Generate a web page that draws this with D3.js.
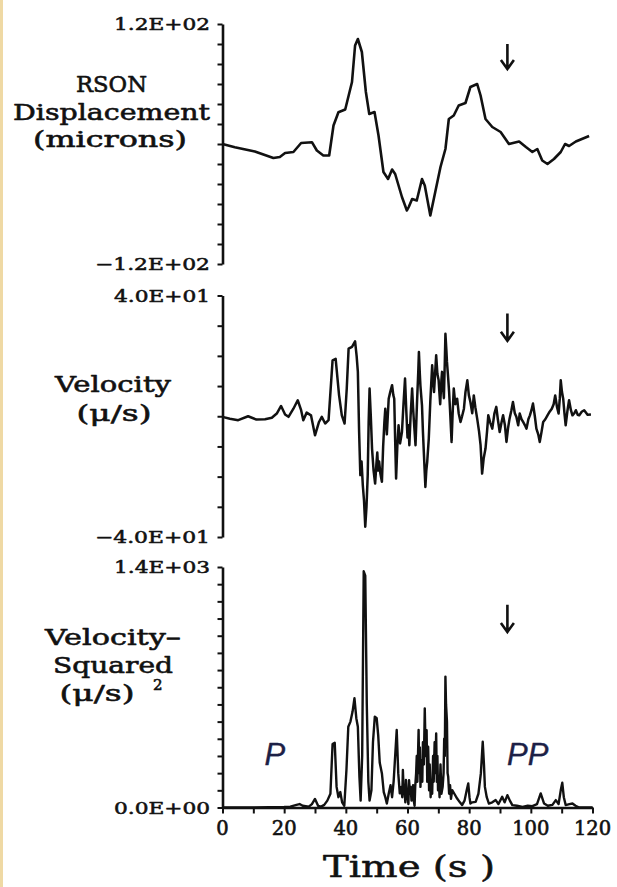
<!DOCTYPE html>
<html>
<head>
<meta charset="utf-8">
<script src="https://cdn.jsdelivr.net/npm/d3@7"></script>
<style>
  html, body { margin: 0; padding: 0; background: #fff; }
  svg { display: block; }
</style>
</head>
<body>
<svg id="chart" width="617" height="887"></svg>
<script>
// ---- Data: RSON record, time in seconds ----
const dispTime  = [0, 4, 10.5, 16.5, 18.6, 20.3, 23, 25.5, 29, 30.6, 32.7, 34.6, 36, 37.6, 39.8, 42, 43, 43.9, 45.2, 46.5, 47.6, 49.3, 50.6, 52.2, 53.7, 55, 56, 58.2, 59.8, 60.4, 61.5, 63, 64.7, 65.6, 67.4, 69, 70.7, 72.3, 73.4, 75, 76.6, 78.8, 80.4, 82.6, 83.7, 85.3, 87.5, 90.2, 92.9, 96.2, 98.4, 100.5, 102.1, 103.7, 105.4, 107.5, 109.7, 111.1, 112.4, 114.6, 118.9];
const dispValue = [0, -3.2, -7.5, -14, -13, -9, -8, 1, 1.8, -6.5, -11.5, -11.5, 18.5, 31.8, 34.5, 62, 98.5, 105, 92, 52, 30, 32, 8.5, -28, -35, -25.5, -30, -53, -66.5, -63, -55, -56.5, -35, -41.5, -71.5, -48, -23, -5, 25, 28.5, 38.5, 41, 57, 60, 48.5, 25, 17, 12, 0, 2.5, -3, -8, -5, -16.5, -20, -15, -8, 0, -2, 2.5, 8];

const velTime  = [0, 2.4, 5.1, 8.3, 11, 13.8, 16, 17.6, 19, 20.3, 21.4, 23, 24.4, 25.5, 26.2, 27.3, 28.7, 30, 31.3, 32.2, 33.3, 34.4, 35.7, 36.7, 37.8, 38.7, 39.6, 40.3, 40.9, 42, 43, 43.5, 43.9, 44.3, 44.7, 45.1, 45.5, 45.9, 46.3, 46.7, 47.1, 47.4, 47.7, 48.1, 48.5, 49, 49.5, 49.9, 50.2, 50.5, 50.8, 51.2, 51.7, 52.1, 52.5, 52.8, 53.3, 53.9, 54.4, 55, 55.4, 55.7, 56, 56.3, 56.7, 57.1, 57.6, 58.2, 58.7, 59.2, 59.6, 60, 60.3, 60.6, 61, 61.5, 61.8, 62.1, 62.6, 63.1, 63.5, 63.7, 64, 64.2, 64.7, 65, 65.3, 65.8, 66.1, 66.4, 66.9, 67.4, 68, 68.3, 68.6, 69, 69.3, 69.7, 70.1, 70.4, 70.6, 71, 71.2, 71.5, 71.8, 72.1, 72.3, 72.6, 72.8, 73.2, 73.5, 73.8, 74.3, 74.6, 75, 75.5, 76.1, 76.6, 77.2, 77.7, 78.3, 78.8, 79.4, 79.9, 80.4, 81, 81.5, 82, 82.6, 83.2, 83.7, 84.2, 84.7, 85.3, 85.8, 86.2, 86.8, 87.5, 88.2, 88.8, 89.3, 89.9, 90.5, 91, 91.6, 92.1, 92.6, 93.1, 93.7, 94.2, 94.8, 95.3, 95.9, 96.4, 97, 97.5, 98.1, 98.6, 99.2, 99.7, 100.2, 100.7, 101.3, 101.8, 102.4, 102.9, 103.5, 104, 104.7, 105.4, 106.1, 106.8, 107.4, 107.9, 108.5, 109, 109.4, 109.7, 110.1, 110.5, 110.9, 111.3, 111.9, 112.4, 113, 113.5, 114.1, 114.6, 115.2, 115.7, 116.5, 117.3, 118.4, 119.5];
const velValue = [-0.2, -0.8, -1.3, 0, -1.1, -1, -0.5, 0.9, 3.4, 0.6, -0.2, 2.5, 5.3, 2, -1.3, 1.2, 0.3, -6.3, -1.9, -0.2, -2.4, -1.3, 18.5, 19, 7, 0.3, -2.4, 9.2, 22.4, 23, 24.8, 20, 14.7, -5, -19.5, -15, -22.8, -28, -36.6, -30, -19.5, -2, 9.2, 0, -10.7, -18, -22.3, -16, -12, -18, -15, -19, -21.7, -10, -2, 2.5, -6, 5.8, 8, 10.3, 7, 5.8, -8, -20.6, -10, -3, -9, -5.2, 4, 12.5, 2, -7, -3, -9.6, 0, 9.2, 3, -2, -9.6, 5, 15, 21.3, 14, 10, 3.6, -5, -12, -23.4, -18, -15, -7.4, 5, 16.9, 12, 8, 15, 20.2, 14, 11.9, 7, 4, 12, 14.7, 10, 6, 18, 27.3, 22, 18, 12.5, 8, 2, -8.5, 0, 9.2, 4, 5.8, 1, -1.9, 0, 2.5, 8, 11.9, 7, 4.7, 1, 6.9, 3, -0.8, -5, -9.6, -19, -14, -10.7, -5, 0.3, -2, -4.1, 1, 3.1, -1, -5.2, -2, 0.3, -3, -8.5, -4, -0.8, 2, 4.7, 1, -0.2, -3, 0.9, -1, -1.9, -3, -4.1, -1, 0.3, 2, 4.2, 0, -4.1, -6, -8.5, -5, -1.9, -1, 0.3, 1.5, 2.5, 4, 6.9, 3, 0.9, 6, 11.9, 8, 5.8, 1, -3, 2, 5.3, 2, 0.3, 1, 2, 0.5, 0.3, 1.5, 2, 0.5, 0.6];

const sqTime  = [0, 5, 10, 15, 20, 22, 24, 25, 26, 28, 29, 30, 31, 32, 33, 34, 35, 35.7, 36.4, 37, 37.6, 38.2, 38.8, 39.5, 40.2, 40.8, 41.5, 42.2, 42.8, 43.4, 43.9, 44.4, 44.8, 45.3, 45.8, 46.3, 46.8, 47.3, 47.7, 48.3, 48.8, 49.4, 50, 50.5, 51, 51.7, 52.3, 52.8, 53.3, 53.9, 54.5, 55, 55.5, 56, 56.5, 57, 57.5, 58, 58.3, 58.5, 58.8, 59, 59.3, 59.5, 59.8, 60, 60.3, 60.5, 60.8, 61, 61.3, 61.5, 61.8, 62, 62.3, 62.5, 62.8, 63, 63.2, 63.6, 63.8, 64, 64.2, 64.5, 64.8, 65, 65.3, 65.6, 65.9, 66.2, 66.4, 66.7, 67, 67.2, 67.5, 67.8, 68, 68.3, 68.5, 68.8, 69, 69.3, 69.5, 69.7, 69.9, 70.1, 70.4, 70.7, 71, 71.4, 71.7, 71.9, 72.1, 72.3, 72.5, 72.8, 73, 73.2, 73.5, 73.8, 74.1, 74.5, 75.2, 76.1, 77, 77.7, 78.5, 79.2, 79.7, 80.1, 80.4, 81, 82.1, 83, 83.8, 84.4, 84.8, 85.1, 85.7, 86.4, 87.5, 88.6, 89.5, 90.7, 91.5, 92.4, 93.2, 94, 95.5, 97.3, 99, 100.5, 102, 103.2, 104.3, 105.5, 107, 108.1, 109, 109.7, 110.2, 110.7, 111.3, 112.5, 113.5, 114.5, 115.7, 117, 120];
const sqValue = [0, 0, 0, 2, 3, 5, 15, 20, 10, 5, 20, 50, 10, 5, 15, 40, 80, 370, 377, 120, 60, 90, 30, 10, 220, 470, 500, 560, 636, 520, 470, 180, 40, 300, 1375, 1350, 600, 150, 40, 100, 380, 529, 520, 420, 260, 198, 90, 60, 23, 80, 130, 60, 150, 300, 451, 200, 82, 120, 60, 218, 80, 100, 30, 160, 70, 60, 20, 159, 90, 120, 40, 90, 130, 43, 10, 120, 200, 300, 150, 451, 200, 350, 120, 276, 150, 380, 250, 577, 300, 450, 150, 354, 100, 250, 60, 159, 80, 300, 150, 380, 200, 431, 150, 300, 100, 179, 60, 250, 80, 120, 200, 400, 300, 762, 600, 500, 200, 179, 80, 130, 50, 101, 80, 52, 30, 14, 40, 100, 140, 60, 23, 30, 33, 80, 200, 383, 250, 120, 60, 23, 30, 43, 20, 62, 30, 72, 40, 14, 10, 4, 10, 8, 20, 82, 23, 10, 15, 43, 20, 100, 144, 60, 14, 20, 23, 10, 0, 0, 0];

// Axis tick values and labels
const timeTicks      = [0, 10, 20, 30, 40, 50, 60, 70, 80, 90, 100, 110, 120];
const timeLabels     = ["0", "20", "40", "60", "80", "100", "120"];
const timeLabelVals  = [0, 20, 40, 60, 80, 100, 120];
const dispTicks      = [-120, -100, -80, -60, -40, -20, 0, 20, 40, 60, 80, 100, 120];
const dispEndLabels  = ["1.2E+02", "-1.2E+02"];
const velTicks       = [-40, -30, -20, -10, 0, 10, 20, 30, 40];
const velEndLabels   = ["4.0E+01", "-4.0E+01"];
const sqTicks        = [0, 100, 200, 300, 400, 500, 600, 700, 800, 900, 1000, 1100, 1200, 1300, 1400];
const sqEndLabels    = ["1.4E+03", "0.0E+00"];

// Arrival markers
const arrowTime = 92.4;
const phaseNames = ["P", "PP"];
const phaseTimes = [17, 99];

// ---- Drawing ----
const svg = d3.select("#chart");
const W = 617, H = 887;
svg.append("rect").attr("width", W).attr("height", H).attr("fill", "#fff");
// tan page edge
svg.append("rect").attr("x", 0).attr("y", 0).attr("width", 3).attr("height", H).attr("fill", "#efd9a4");

const ink = "#111";
const serif = "'DejaVu Serif', 'Liberation Serif', serif";

// serif labels drawn slightly heavier
function heavy(sel, w) {
  return sel.attr("stroke", ink).attr("stroke-width", w).attr("stroke-linejoin", "round")
    .attr("paint-order", "stroke");
}

const x = d3.scaleLinear().domain([0, 120]).range([222.5, 592.5]);

const panels = [
  { time: dispTime, value: dispValue, domain: [-120, 120], range: [264, 24], ticks: dispTicks,
    ends: dispEndLabels, endVals: [120, -120], arrow: [75, 100], lw: 2.6 },
  { time: velTime, value: velValue, domain: [-40, 40], range: [537, 295.5], ticks: velTicks,
    ends: velEndLabels, endVals: [40, -40], arrow: [25, 34], lw: 2.5 },
  { time: sqTime, value: sqValue, domain: [0, 1400], range: [807.5, 567], ticks: sqTicks,
    ends: sqEndLabels, endVals: [1400, 0], arrow: [1022, 1180], lw: 2.4 }
];

panels.forEach((p, i) => {
  const y = d3.scaleLinear().domain(p.domain).range(p.range);
  p.y = y;
  const g = svg.append("g");

  // left axis with outward ticks
  const ax = g.append("g").attr("transform", `translate(${x(0)},0)`)
    .call(d3.axisLeft(y).tickValues(p.ticks).tickSize(5).tickSizeOuter(0).tickFormat(""));
  ax.select(".domain").attr("stroke", ink).attr("stroke-width", 2.6);
  ax.selectAll(".tick line").attr("stroke", ink).attr("stroke-width", 2);

  // end labels
  p.ends.forEach((lab, k) => {
    heavy(g.append("text"), 0.55)
      .attr("x", 210).attr("y", y(p.endVals[k]) + 6)
      .attr("text-anchor", "end")
      .attr("font-family", serif).attr("font-size", 17)
      .attr("fill", ink)
      .attr("textLength", lab.startsWith("-") ? 115 : 96)
      .attr("lengthAdjust", "spacingAndGlyphs")
      .text(lab.replace("-", "\u2212"));
  });

  // trace
  const pts = p.time.map((t, k) => [t, p.value[k]]);
  g.append("path")
    .datum(pts)
    .attr("fill", "none").attr("stroke", ink)
    .attr("stroke-width", p.lw)
    .attr("stroke-linejoin", "round")
    .attr("d", d3.line().x(d => x(d[0])).y(d => y(d[1])));

  // arrival arrow
  const ax0 = x(arrowTime), yTop = y(p.arrow[1]), yBot = y(p.arrow[0]);
  g.append("path")
    .attr("d", `M${ax0},${yTop}L${ax0},${yBot}M${ax0 - 6.5},${yBot - 9}L${ax0},${yBot}L${ax0 + 6.5},${yBot - 9}`)
    .attr("fill", "none").attr("stroke", ink).attr("stroke-width", 2.6);
});

// bottom time axis
const yb = panels[2].y;
const xa = svg.append("g").attr("transform", `translate(0,${yb(0)})`)
  .call(d3.axisBottom(x).tickValues(timeTicks).tickSize(6).tickSizeOuter(0).tickFormat(""));
xa.select(".domain").attr("stroke", ink).attr("stroke-width", 2.6);
xa.selectAll(".tick line").attr("stroke", ink).attr("stroke-width", 2);

heavy(svg.append("g").selectAll("text").data(timeLabelVals).join("text"), 0.6)
  .attr("x", d => x(d)).attr("y", 835)
  .attr("text-anchor", "middle")
  .attr("font-family", serif).attr("font-size", 19.5).attr("fill", ink)
  .text((d, k) => timeLabels[k]);

heavy(svg.append("text"), 0.5)
  .attr("x", 409).attr("y", 877).attr("text-anchor", "middle")
  .attr("font-family", serif).attr("font-size", 29).attr("fill", ink)
  .attr("textLength", 172).attr("lengthAdjust", "spacingAndGlyphs")
  .text("Time (s )");

// panel titles
const titles = [
  { text: "RSON", cx: 111.5, y: 92, w: 71 },
  { text: "Displacement", cx: 111.5, y: 120, w: 197 },
  { text: "(microns)", cx: 110, y: 147, w: 154 },
  { text: "Velocity", cx: 113, y: 392, w: 116 },
  { text: "(\u03bc/s)", cx: 114, y: 421, w: 75 },
  { text: "Velocity\u2013", cx: 113, y: 645, w: 136 },
  { text: "Squared", cx: 113, y: 673, w: 120 },
  { text: "(\u03bc/s)", cx: 97, y: 701, w: 75 }
];
titles.forEach(t => {
  heavy(svg.append("text"), 0.6)
    .attr("x", t.cx).attr("y", t.y).attr("text-anchor", "middle")
    .attr("font-family", serif).attr("font-size", 23).attr("fill", ink)
    .attr("textLength", t.w).attr("lengthAdjust", "spacingAndGlyphs")
    .text(t.text);
});
heavy(svg.append("text"), 0.6)
  .attr("x", 153).attr("y", 690)
  .attr("font-family", serif).attr("font-size", 15).attr("fill", ink)
  .text("2");

// phase labels
heavy(svg.append("g").selectAll("text").data(phaseNames).join("text"), 0.4)
  .attr("stroke", "#1c2046")
  .attr("x", (d, k) => x(phaseTimes[k])).attr("y", 765)
  .attr("text-anchor", "middle")
  .attr("font-family", "'Liberation Sans', Arial, sans-serif")
  .attr("font-style", "italic").attr("font-size", 31)
  .attr("fill", "#1c2046")
  .text(d => d);
</script>
</body>
</html>
